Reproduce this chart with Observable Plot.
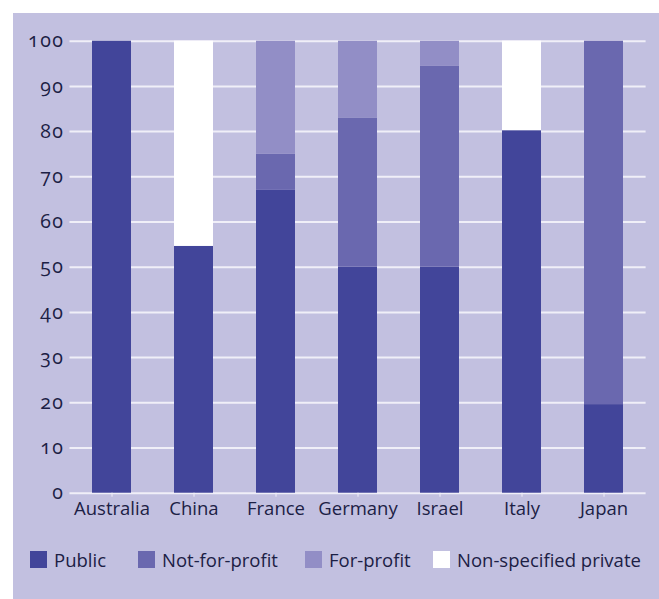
<!DOCTYPE html>
<html>
<head>
<meta charset="utf-8">
<script src="https://cdn.jsdelivr.net/npm/d3@7"></script>
<script src="https://cdn.jsdelivr.net/npm/@observablehq/plot@0.6"></script>
<style>
  html, body { margin: 0; padding: 0; background: #ffffff; }
  #panel { position: absolute; left: 13px; top: 13px; width: 646px; height: 586px; background: #c2c0e0; font-family: "Open Sans", sans-serif; color: #1c2045; }
  #chart { position: absolute; left: 0; top: 0; }
  #chart svg text { font-size: 18.5px; }
  #chart svg g[aria-label="y-axis tick label"] text { font-size: 19.5px; letter-spacing: 1.5px; }
  #legend { position: absolute; left: 0; top: 538px; width: 646px; height: 18px; font-size: 18.5px; }
  .item { position: absolute; top: 0; display: flex; align-items: center; height: 17px; white-space: nowrap; }
  .sw { width: 17px; height: 17px; margin-right: 7px; flex: none; }
</style>
</head>
<body>
<div id="panel"><div id="chart"></div><div id="legend"></div></div>
<script>
const countries = ["Australia", "China", "France", "Germany", "Israel", "Italy", "Japan"];
const series = ["Public", "Not-for-profit", "For-profit", "Non-specified private"];
const publicVals = [100, 54.6, 67, 50, 50, 80.2, 19.6];
const notForProfit = [0, 0, 8, 33, 44.5, 0, 80.4];
const forProfit = [0, 0, 25, 17, 5.5, 0, 0];
const nonSpecified = [0, 45.4, 0, 0, 0, 19.8, 0];
const yTicks = [0, 10, 20, 30, 40, 50, 60, 70, 80, 90, 100];
const colors = ["#42459a", "#6a68af", "#928ec6", "#ffffff"];

const valuesBySeries = [publicVals, notForProfit, forProfit, nonSpecified];
const rows = [];
series.forEach((s, i) => countries.forEach((c, j) => rows.push({country: c, series: s, value: valuesBySeries[i][j]})));

const chart = Plot.plot({
  width: 646,
  height: 530,
  marginLeft: 56.5,
  marginRight: 13.4,
  marginTop: 27.7,
  marginBottom: 50.3,
  style: {background: "transparent", fontFamily: "Open Sans, sans-serif", fontSize: "18.5px", color: "#1c2045"},
  x: {domain: countries, paddingInner: 0.53, paddingOuter: 0.265, label: null},
  y: {domain: [0, 100], ticks: yTicks, label: null},
  color: {domain: series, range: colors},
  marks: [
    Plot.ruleY(yTicks, {stroke: "#f0eff8", strokeWidth: 2}),
    Plot.barY(rows, {x: "country", y: "value", fill: "series"}),
    Plot.axisY({ticks: yTicks, tickSize: 0, tickPadding: 5.5, fontVariant: "oldstyle-nums", fill: "#1c2045", label: null}),
    Plot.axisX({tickSize: 4, stroke: "#f0eff8", tickPadding: 5, fill: "#1c2045", label: null})
  ]
});
document.getElementById("chart").appendChild(chart);

const legend = document.getElementById("legend");
const legendX = [17, 125, 292, 420];
series.forEach((s, i) => {
  const item = document.createElement("div");
  item.className = "item";
  item.style.left = legendX[i] + "px";
  const sw = document.createElement("div");
  sw.className = "sw";
  sw.style.background = colors[i];
  const t = document.createElement("span");
  t.textContent = s;
  item.appendChild(sw); item.appendChild(t);
  legend.appendChild(item);
});
</script>
</body>
</html>
